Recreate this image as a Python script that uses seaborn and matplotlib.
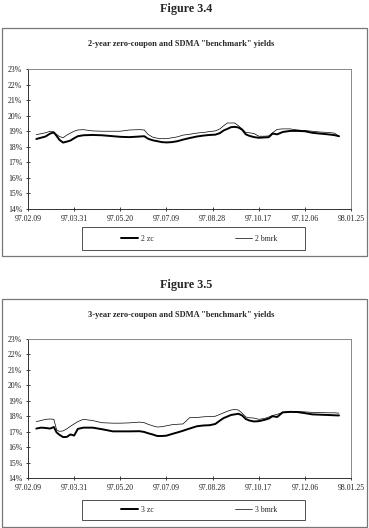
import numpy as np
import pandas as pd
import seaborn as sns
import matplotlib.pyplot as plt
import matplotlib.dates as mdates
from matplotlib.patches import Rectangle
from matplotlib.ticker import PercentFormatter, MultipleLocator

sns.set_theme(style="white")
plt.rcParams['font.family'] = ['Liberation Serif', 'DejaVu Serif']

dates = pd.to_datetime([
    "1997-02-18", "1997-02-23", "1997-02-28", "1997-03-05", "1997-03-09", "1997-03-12",
    "1997-03-15", "1997-03-19", "1997-03-23", "1997-03-27", "1997-03-31", "1997-04-04",
    "1997-04-10", "1997-04-20", "1997-04-30", "1997-05-12", "1997-05-20", "1997-05-30",
    "1997-06-10", "1997-06-15", "1997-06-19", "1997-06-24", "1997-06-29", "1997-07-04",
    "1997-07-09", "1997-07-15", "1997-07-21", "1997-07-27", "1997-08-03", "1997-08-11",
    "1997-08-18", "1997-08-25", "1997-08-31", "1997-09-05", "1997-09-09", "1997-09-13",
    "1997-09-17", "1997-09-21", "1997-09-25", "1997-09-29", "1997-10-03", "1997-10-07",
    "1997-10-12", "1997-10-17", "1997-10-23", "1997-10-28", "1997-11-01", "1997-11-06",
    "1997-11-12", "1997-11-20", "1997-11-28", "1997-12-06", "1997-12-14", "1997-12-22",
    "1997-12-31", "1998-01-07", "1998-01-12",
])

# yields in percent
zc_2y = [18.50, 18.58, 18.66, 18.85, 18.92, 18.70, 18.45, 18.27, 18.33, 18.40, 18.55, 18.68,
         18.74, 18.76, 18.74, 18.68, 18.64, 18.62, 18.66, 18.68, 18.52, 18.42, 18.36, 18.30,
         18.28, 18.30, 18.36, 18.46, 18.56, 18.66, 18.72, 18.76, 18.78, 18.88, 19.05, 19.15,
         19.26, 19.28, 19.24, 19.10, 18.80, 18.70, 18.62, 18.58, 18.60, 18.62, 18.85, 18.80,
         18.95, 19.02, 19.02, 19.00, 18.90, 18.85, 18.80, 18.75, 18.68]
bmrk_2y = [18.78, 18.84, 18.90, 19.00, 18.95, 18.80, 18.66, 18.58, 18.75, 18.88, 19.00, 19.08,
           19.10, 19.02, 19.00, 19.00, 19.00, 19.08, 19.10, 19.08, 18.80, 18.62, 18.55, 18.52,
           18.52, 18.58, 18.64, 18.75, 18.80, 18.88, 18.92, 18.98, 19.02, 19.15, 19.35, 19.53,
           19.53, 19.53, 19.35, 19.15, 18.92, 18.90, 18.85, 18.68, 18.68, 18.70, 18.90, 19.12,
           19.15, 19.15, 19.08, 19.04, 19.00, 18.95, 18.92, 18.88, 18.68]
zc_3y = [17.20, 17.26, 17.24, 17.20, 17.30, 16.95, 16.80, 16.65, 16.66, 16.82, 16.75, 17.18,
         17.26, 17.26, 17.16, 17.02, 17.02, 17.02, 17.03, 16.98, 16.90, 16.82, 16.72, 16.72,
         16.74, 16.85, 16.95, 17.06, 17.20, 17.35, 17.40, 17.42, 17.50, 17.72, 17.88, 17.98,
         18.08, 18.12, 18.16, 18.05, 17.82, 17.72, 17.66, 17.68, 17.76, 17.85, 18.00, 17.95,
         18.25, 18.28, 18.27, 18.20, 18.12, 18.10, 18.08, 18.06, 18.05]
bmrk_3y = [17.65, 17.72, 17.80, 17.82, 17.80, 17.12, 17.02, 17.05, 17.18, 17.35, 17.50, 17.65,
           17.80, 17.72, 17.58, 17.55, 17.55, 17.57, 17.62, 17.58, 17.48, 17.38, 17.30, 17.32,
           17.38, 17.45, 17.48, 17.50, 17.90, 17.92, 17.96, 17.98, 18.00, 18.12, 18.22, 18.32,
           18.40, 18.44, 18.40, 18.20, 17.95, 17.90, 17.88, 17.80, 17.85, 17.95, 18.05, 18.12,
           18.25, 18.32, 18.30, 18.28, 18.25, 18.24, 18.22, 18.22, 18.20]

tick_dates = pd.date_range("1997-02-09", periods=8, freq="50D")

W, H = 369, 528
fig = plt.figure(figsize=(W / 100, H / 100), dpi=100)


def px_box(x0, y0, x1, y1):
    # pixel box (from top-left) -> figure fraction [left, bottom, width, height]
    return [x0 / W, 1 - y1 / H, (x1 - x0) / W, (y1 - y0) / H]


def panel(fig_title, fig_title_y, title, title_y, outer, plot, legbox, zc, bmrk, lab_zc, lab_bmrk):
    fig.text(0.505, 1 - fig_title_y / H, fig_title, ha="center", va="center",
             fontsize=8.7, fontweight="bold")
    l, b, w, h = px_box(*outer)
    fig.add_artist(Rectangle((l, b), w, h, transform=fig.transFigure, fill=False,
                             ec="#777777", lw=0.9))
    fig.text(0.49, 1 - title_y / H, title, ha="center", va="center",
             fontsize=6, fontweight="bold")

    ax = fig.add_axes(px_box(*plot))
    df = pd.DataFrame({"date": dates, "zc": zc, "bmrk": bmrk})
    sns.lineplot(data=df, x="date", y="zc", ax=ax, color="black", lw=1.4, label=lab_zc)
    sns.lineplot(data=df, x="date", y="bmrk", ax=ax, color="black", lw=0.5, label=lab_bmrk)

    ax.set_xlim(tick_dates[0], tick_dates[-1])
    ax.set_ylim(14, 23)
    ax.set_xticks(tick_dates)
    ax.xaxis.set_major_formatter(mdates.DateFormatter("%y.%m.%d"))
    ax.yaxis.set_major_locator(MultipleLocator(1))
    ax.yaxis.set_major_formatter(PercentFormatter(100, decimals=0))
    ax.set_xlabel("")
    ax.set_ylabel("")
    ax.tick_params(direction="inout", length=3.5, width=0.6, pad=2.5,
                   labelsize=5.6, colors="#222222", left=True, bottom=True)
    for side in ["left", "bottom"]:
        ax.spines[side].set_color("#333333")
        ax.spines[side].set_linewidth(0.7)
    for side in ["top", "right"]:
        ax.spines[side].set_color("#888888")
        ax.spines[side].set_linewidth(0.7)

    l, b, w, h = px_box(*legbox)
    fig.add_artist(Rectangle((l, b), w, h, transform=fig.transFigure, fill=False,
                             ec="#333333", lw=0.6))
    handles, labels = ax.get_legend_handles_labels()
    ax.legend(handles, labels, ncol=2, frameon=False, loc="center",
              bbox_to_anchor=(l + w / 2 + 0.015, b + h / 2), bbox_transform=fig.transFigure,
              fontsize=5.6, handlelength=2.2, handletextpad=0.3, columnspacing=10.5)
    return ax


panel("Figure 3.4", 9, '2-year zero-coupon and SDMA "benchmark" yields', 44,
      (2, 28, 367, 256), (28, 69, 351, 209), (82, 227, 305, 250),
      zc_2y, bmrk_2y, "2 zc", "2 bmrk")
panel("Figure 3.5", 285, '3-year zero-coupon and SDMA "benchmark" yields', 315,
      (2, 299, 367, 527), (28, 339, 351, 478), (82, 500, 305, 520),
      zc_3y, bmrk_3y, "3 zc", "3 bmrk")

fig.savefig("out.png", dpi=100)
